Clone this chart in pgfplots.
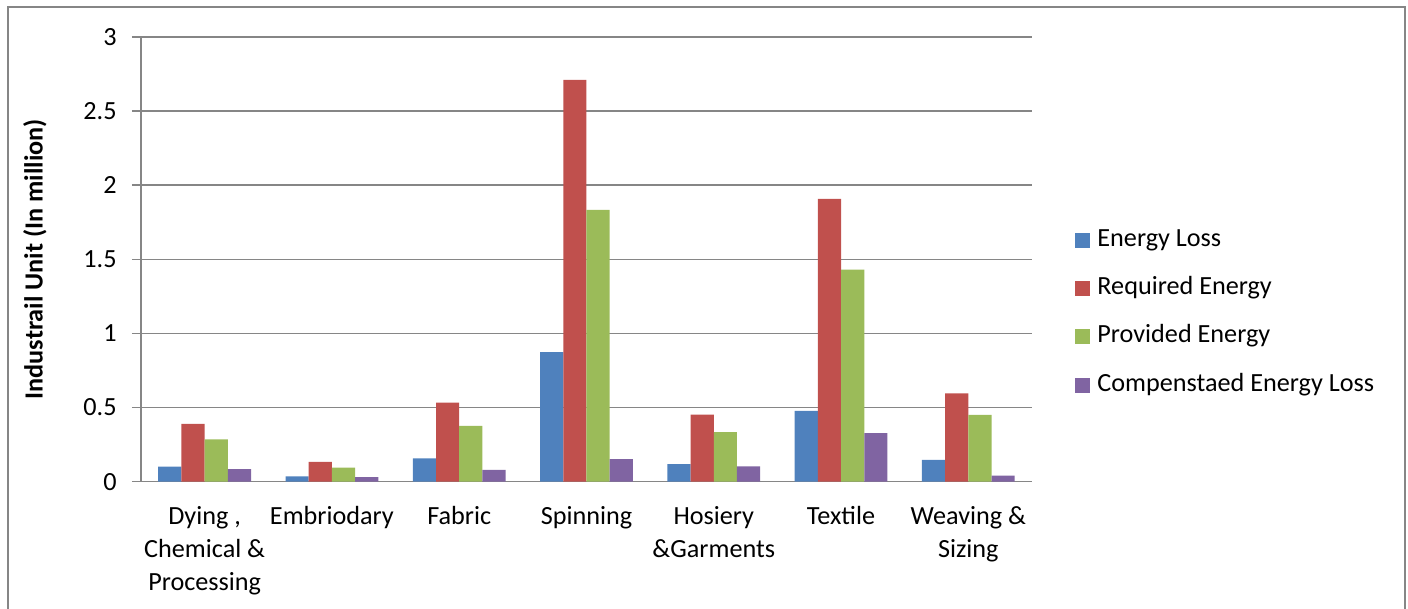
\documentclass[border=0pt]{standalone}
\usepackage{fontspec}
\setmainfont{Carlito}
\usepackage{pgfplots}
\pgfplotsset{compat=1.18}
\definecolor{c1}{HTML}{4F81BD}
\definecolor{c2}{HTML}{C0504D}
\definecolor{c3}{HTML}{9BBB59}
\definecolor{c4}{HTML}{8064A2}
\definecolor{gridc}{HTML}{868686}
\newcommand{\chartfont}{\fontsize{13.1}{16.6}\selectfont}
\begin{document}
\begin{tikzpicture}
\useasboundingbox (0,0) rectangle (704pt,304.5pt);
\draw[gridc, line width=1pt] (4pt,-10pt) rectangle (702.5pt,301pt);
\begin{axis}[
  at={(70.5pt,63.65pt)}, anchor=south west,
  scale only axis, width=445.5pt, height=222.35pt,
  ybar=0pt, bar width=11.6pt,
  xmin=-0.5, xmax=6.5, ymin=0, ymax=3,
  enlargelimits=false,
  axis x line*=bottom, axis y line*=left,
  axis line style={gridc, line width=0.8pt, -},
  xtick={0,1,2,3,4,5,6},
  xticklabels={{Dying ,\\Chemical \&\\Processing},Embriodary,Fabric,Spinning,{Hosiery\\\&Garments},Textile,{Weaving \&\\Sizing}},
  ytick={0,0.5,1,1.5,2,2.5,3},
  tick align=outside, major tick length=4.5pt,
  x tick style={draw=none},
  y tick style={gridc, line width=0.8pt},
  ymajorgrids, grid style={gridc, line width=0.8pt},
  /pgf/number format/assume math mode=true,
  xticklabel style={font=\chartfont, align=center, anchor=north, inner sep=0pt, yshift=-7.5pt},
  yticklabel style={font=\chartfont, anchor=east, inner sep=0pt, xshift=-7.5pt},
  ylabel={Industrail Unit (In million)},
  ylabel style={font=\chartfont\bfseries, at={(axis description cs:-0.1190,0.5)}, anchor=center},
  legend style={at={(axis description cs:1.0483,0.380)}, anchor=west, draw=none, fill=none,
    inner sep=0pt, row sep=12.2pt, font=\chartfont, cells={anchor=west},
    nodes={inner xsep=3.5pt, inner ysep=0pt, text height=9pt, text depth=3pt}},
  legend image code/.code={\fill[#1] (0pt,-3.75pt) rectangle (7.5pt,3.75pt);},
]
\addplot[fill=c1, draw=none] coordinates {(0,0.101) (1,0.036) (2,0.158) (3,0.874) (4,0.118) (5,0.478) (6,0.147)};
\addplot[fill=c2, draw=none] coordinates {(0,0.390) (1,0.133) (2,0.534) (3,2.710) (4,0.453) (5,1.908) (6,0.595)};
\addplot[fill=c3, draw=none] coordinates {(0,0.286) (1,0.095) (2,0.376) (3,1.834) (4,0.334) (5,1.430) (6,0.451)};
\addplot[fill=c4, draw=none] coordinates {(0,0.084) (1,0.030) (2,0.079) (3,0.153) (4,0.104) (5,0.327) (6,0.041)};
\legend{Energy Loss,Required Energy,Provided Energy,Compenstaed Energy Loss}
\end{axis}
\end{tikzpicture}
\end{document}
